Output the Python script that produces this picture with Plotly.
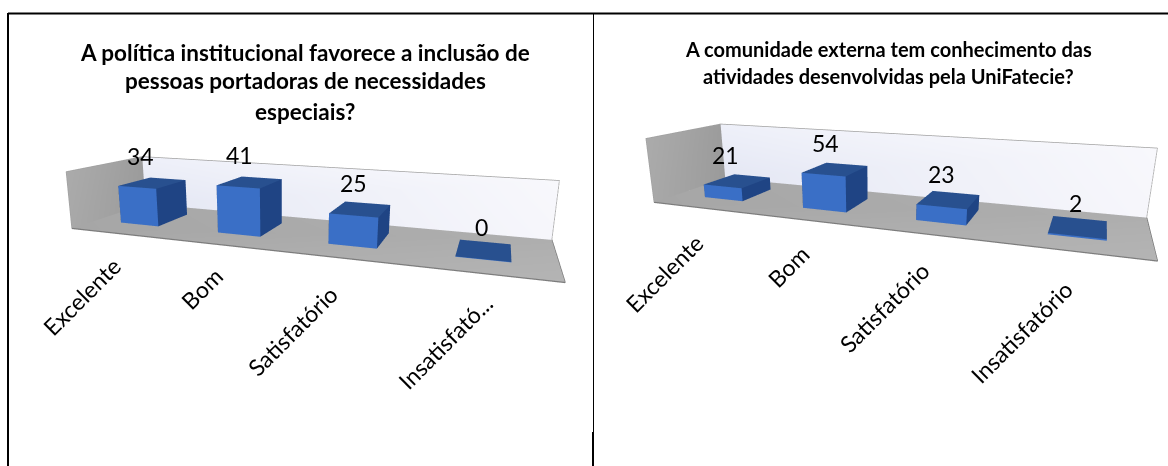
import numpy as np
import plotly.graph_objects as go

categories_left = ["Excelente", "Bom", "Satisfatório", "Insatisfató..."]
categories_right = ["Excelente", "Bom", "Satisfatório", "Insatisfatório"]
values_left = [34, 41, 25, 0]
values_right = [21, 54, 23, 2]
title_left = ["A política institucional favorece a inclusão de", "pessoas portadoras de necessidades", "especiais?"]
title_right = ["A comunidade externa tem conhecimento das", "atividades desenvolvidas pela UniFatecie?"]

W, H = 1168, 466

# cameras worked out from the corners of the floor and walls
cam_left = dict(eye=[0.3731, -1.1115, 0.2505], center=[-0.0068, -0.0184, -0.0569], up=[-0.092, 0.2398, 0.9665],
                ay=0.2822, az=0.1272)
cam_right = dict(eye=[0.3838, -1.0649, 0.2488], center=[-0.0052, -0.0401, -0.1092], up=[-0.1116, 0.2897, 0.9506],
                 ay=0.2611, az=0.1401)

# label offsets in pixels from the front edge of the floor
shifts_left = [(-34, -63), (-19, -43), (-49, -73), (-36, -69)]
shifts_right = [(-37, -65), (-18, -46), (-45, -73), (-53, -81)]

# triangles: bottom, front, right, back, left, top
BOX_I = [0, 0, 0, 0, 1, 1, 2, 2, 3, 3, 4, 4]
BOX_J = [1, 2, 1, 5, 2, 6, 3, 7, 0, 4, 5, 6]
BOX_K = [2, 3, 5, 4, 6, 5, 7, 6, 4, 7, 6, 7]
BOX_COLORS = ["#2a5aa8"] * 2 + ["#3a6fc6"] * 2 + ["#1f4484"] * 2 + ["#1f4484"] * 2 + ["#1f4484"] * 2 + ["#28508f"] * 2
FLAT = dict(ambient=1, diffuse=0, specular=0, fresnel=0, roughness=1)


def box(x0, x1, y0, y1, z0, z1):
    xs = [x0, x1, x1, x0, x0, x1, x1, x0]
    ys = [y0, y0, y1, y1, y0, y0, y1, y1]
    zs = [z0, z0, z0, z0, z1, z1, z1, z1]
    return xs, ys, zs


def quad(pts, colors):
    p = np.array(pts, float)
    return go.Mesh3d(x=p[:, 0], y=p[:, 1], z=p[:, 2], i=[0, 0], j=[1, 2], k=[2, 3], vertexcolor=colors,
                     flatshading=False, lighting=FLAT, hoverinfo="skip")


def edge(pts, color, width):
    p = np.array(pts, float)
    return go.Scatter3d(x=p[:, 0], y=p[:, 1], z=p[:, 2], mode="lines", line=dict(color=color, width=width),
                        hoverinfo="skip")


def add_chart(fig, scene, domain_x, categories, values, zmax, cam, shifts, x0, label_dx):
    x1 = x0 + len(categories)
    traces = [
        quad([[x0, 0, 0], [x1, 0, 0], [x1, 1, 0], [x0, 1, 0]], ["#a6a6a6", "#b4b4b4", "#aeaeae", "#a8a8a8"]),
        quad([[x0, 1, 0], [x1, 1, 0], [x1, 1, zmax], [x0, 1, zmax]], ["#e4e7f4", "#f6f6fb", "#f8f8fc", "#eef0f9"]),
        quad([[x0, 0, 0], [x0, 1, 0], [x0, 1, zmax], [x0, 0, zmax]], ["#a8a8a8", "#9a9a9a", "#9c9c9c", "#ababab"]),
        edge([[x0, 0, 0], [x1, 0, 0], [x1, 1, 0]], "#7c7c7c", 2.5),
        edge([[x0, 0, 0], [x0, 0, zmax], [x0, 1, zmax], [x1, 1, zmax], [x1, 1, 0], [x0, 1, 0]], "#a0a0a0", 1.5),
    ]
    for i, v in enumerate(values):
        xs, ys, zs = box(i - 0.2, i + 0.2, 0.3, 0.75, 0, max(v, zmax * 0.006))
        traces.append(go.Mesh3d(x=xs, y=ys, z=zs, i=BOX_I, j=BOX_J, k=BOX_K, facecolor=BOX_COLORS,
                                flatshading=True, lighting=FLAT, hoverinfo="skip"))
    for t in traces:
        t.scene = scene
        fig.add_trace(t)
    labels = [dict(x=i, y=0.37, z=v, text=str(v), showarrow=False, xshift=label_dx, yshift=30,
                   font=dict(size=23, color="black")) for i, v in enumerate(values)]
    labels += [dict(x=i, y=0, z=0, text=c, showarrow=False, textangle=-45, xshift=s[0], yshift=s[1],
                    font=dict(size=23, color="black")) for i, (c, s) in enumerate(zip(categories, shifts))]
    axis = dict(visible=False)
    # a hair wider than the walls so they are not clipped by the scene bounds
    fig.update_layout({scene: dict(
        domain=dict(x=domain_x, y=[0, 1]),
        xaxis=dict(axis, range=[x0 - 0.004, x1 + 0.004]), yaxis=dict(axis, range=[-0.004, 1.004]),
        zaxis=dict(axis, range=[-0.004 * zmax, 1.004 * zmax]),
        aspectmode="manual", aspectratio=dict(x=1, y=cam["ay"], z=cam["az"]),
        camera=dict(eye=dict(zip("xyz", cam["eye"])), center=dict(zip("xyz", cam["center"])),
                    up=dict(zip("xyz", cam["up"])), projection=dict(type="perspective")),
        annotations=labels, bgcolor="rgba(0,0,0,0)")})


fig = go.Figure()
add_chart(fig, "scene", [0, 600 / W], categories_left, values_left, 50, cam_left, shifts_left, -0.47, -2)
add_chart(fig, "scene2", [592 / W, 1], categories_right, values_right, 100, cam_right, shifts_right, -0.5, -2)

notes = []
for lines, xc, ys, size in [(title_left, 305, [52, 80, 111], 22.5), (title_right, 888, [49, 76], 20)]:
    for text, y in zip(lines, ys):
        notes.append(dict(x=xc / W, y=1 - y / H, xref="paper", yref="paper", xanchor="center", yanchor="middle",
                          text="<b>" + text + "</b>", showarrow=False, font=dict(size=size, color="black")))

line = dict(color="black", width=2)
fig.update_layout(
    width=W, height=H, margin=dict(l=0, r=0, t=0, b=0), paper_bgcolor="white", showlegend=False,
    font=dict(family="Lato, Carlito, sans-serif"), annotations=notes,
    shapes=[
        dict(type="line", xref="paper", yref="paper", x0=8 / W, x1=1, y0=1 - 13.5 / H, y1=1 - 13.5 / H, line=line),
        dict(type="line", xref="paper", yref="paper", x0=8 / W, x1=8 / W, y0=1 - 13 / H, y1=0, line=line),
        dict(type="line", xref="paper", yref="paper", x0=593.5 / W, x1=593.5 / W, y0=1 - 13 / H, y1=0,
             line=dict(color="black", width=1)),
        dict(type="line", xref="paper", yref="paper", x0=593 / W, x1=593 / W, y0=1 - 432 / H, y1=0, line=line),
    ],
)
fig.write_html("out.html", config=dict(displayModeBar=False), post_script="document.body.style.margin='0'")
